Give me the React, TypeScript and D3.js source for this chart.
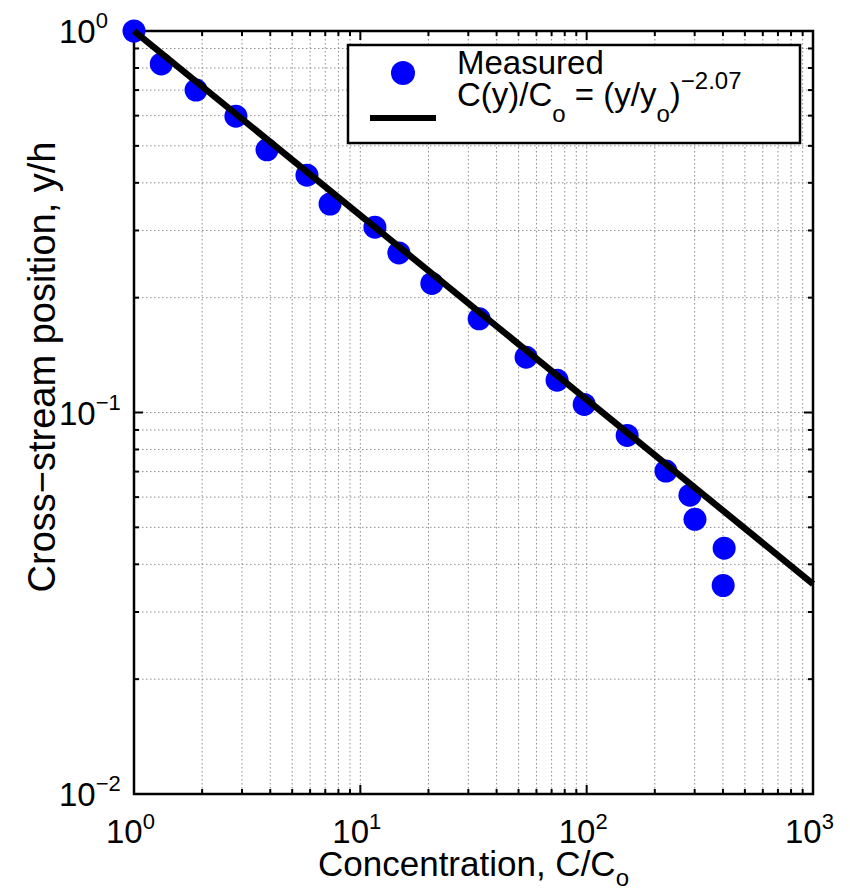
import React from "react";
import * as d3 from "d3";

// Measured data: concentration C/Co vs cross-stream position y/h
const concentration = [1, 1.32, 1.88, 2.82, 3.87, 5.81, 7.35, 11.6, 14.8, 20.7, 33.5, 54, 74, 97.5, 151, 224, 286, 301, 405, 401];
const position = [1.0, 0.82, 0.70, 0.598, 0.488, 0.419, 0.352, 0.306, 0.262, 0.218, 0.176, 0.1396, 0.1215, 0.105, 0.0871, 0.0702, 0.0607, 0.0525, 0.0441, 0.0352];

// Fit: C(y)/Co = (y/yo)^-2.07
const fitExponent = -2.07;
const fitRange = [1, 1000];

const xTickExps = [0, 1, 2, 3];
const yTickExps = [0, -1, -2];

const FONT = "'Liberation Sans', Arial, Helvetica, sans-serif";

export default function App() {
  const W = 850, H = 893;
  const L = 134, R = 813, T = 31, B = 794;
  const x = d3.scaleLog().domain([1, 1000]).range([L, R]);
  const y = d3.scaleLog().domain([0.01, 1]).range([B, T]);

  const xTicks = x.ticks();
  const yTicks = y.ticks();
  const isMajor = (v: number) => Math.abs(Math.log10(v) - Math.round(Math.log10(v))) < 1e-9;

  const fitData = fitRange.map((c) => [c, Math.pow(c, 1 / fitExponent)] as [number, number]);
  const line = d3.line<[number, number]>().x((d) => x(d[0])).y((d) => y(d[1]));

  const gridColor = "#8c8c8c";
  const minus = "\u2212";

  return (
    <svg width={W} height={H} style={{ position: "absolute", left: 0, top: 0, background: "#fff" }} fontFamily={FONT}>
      <rect x={0} y={0} width={W} height={H} fill="#fff" />
      {/* grid */}
      <g stroke={gridColor} strokeWidth={1} strokeDasharray="1.5 2.5">
        {xTicks.filter((v) => v > 1 && v < 1000).map((v, i) => (
          <line key={"gx" + i} x1={x(v)} x2={x(v)} y1={T} y2={B} />
        ))}
        {yTicks.filter((v) => v > 0.01 && v < 1).map((v, i) => (
          <line key={"gy" + i} x1={L} x2={R} y1={y(v)} y2={y(v)} />
        ))}
      </g>
      {/* ticks */}
      <g stroke="#000" strokeWidth={2}>
        {xTicks.map((v, i) => {
          const len = isMajor(v) ? 9 : 5;
          return (
            <g key={"tx" + i}>
              <line x1={x(v)} x2={x(v)} y1={B} y2={B - len} />
              <line x1={x(v)} x2={x(v)} y1={T} y2={T + len} />
            </g>
          );
        })}
        {yTicks.map((v, i) => {
          const len = isMajor(v) ? 9 : 5;
          return (
            <g key={"ty" + i}>
              <line x1={L} x2={L + len} y1={y(v)} y2={y(v)} />
              <line x1={R} x2={R - len} y1={y(v)} y2={y(v)} />
            </g>
          );
        })}
      </g>
      {/* axes box */}
      <rect x={L} y={T} width={R - L} height={B - T} fill="none" stroke="#000" strokeWidth={2.5} />

      {/* tick labels */}
      {xTickExps.map((e) => (
        <text key={"xl" + e} x={x(Math.pow(10, e)) - 28} y={843} fontSize={33} fill="#000">
          10
          <tspan dy={-14} fontSize={22}>{e < 0 ? minus + Math.abs(e) : e}</tspan>
        </text>
      ))}
      {yTickExps.map((e) => (
        <text key={"yl" + e} x={59} y={y(Math.pow(10, e)) + 12} fontSize={33} fill="#000">
          10
          <tspan dy={-15} fontSize={22}>{e < 0 ? minus + Math.abs(e) : e}</tspan>
        </text>
      ))}

      {/* axis labels */}
      <text x={(L + R) / 2} y={876} fontSize={35} textAnchor="middle" fill="#000">
        Concentration, C/C<tspan dy={10} fontSize={24}>o</tspan>
      </text>
      <text transform={`translate(55,367) rotate(-90)`} fontSize={38} textAnchor="middle" fill="#000">
        Cross{minus}stream position, y/h
      </text>

      {/* data */}
      <g fill="#0000ff">
        {concentration.map((c, i) => (
          <circle key={"p" + i} cx={x(c)} cy={y(position[i])} r={11.5} />
        ))}
      </g>
      <path d={line(fitData) || ""} stroke="#000" strokeWidth={6.5} fill="none" />

      {/* legend */}
      <rect x={348} y={45} width={452} height={98} fill="#fff" stroke="#000" strokeWidth={2.5} />
      <circle cx={403} cy={73} r={12} fill="#0000ff" />
      <line x1={370} x2={436} y1={118} y2={118} stroke="#000" strokeWidth={6} />
      <text x={457} y={74} fontSize={33} fill="#000">Measured</text>
      <text x={457} y={106} fontSize={33} fill="#000">
        C(y)/C<tspan dy={16} fontSize={24}>o</tspan>
        <tspan dy={-16}> = (y/y</tspan>
        <tspan dy={16} fontSize={24}>o</tspan>
        <tspan dy={-16}>)</tspan>
        <tspan dy={-17} fontSize={24}>{minus}2.07</tspan>
      </text>
    </svg>
  );
}
